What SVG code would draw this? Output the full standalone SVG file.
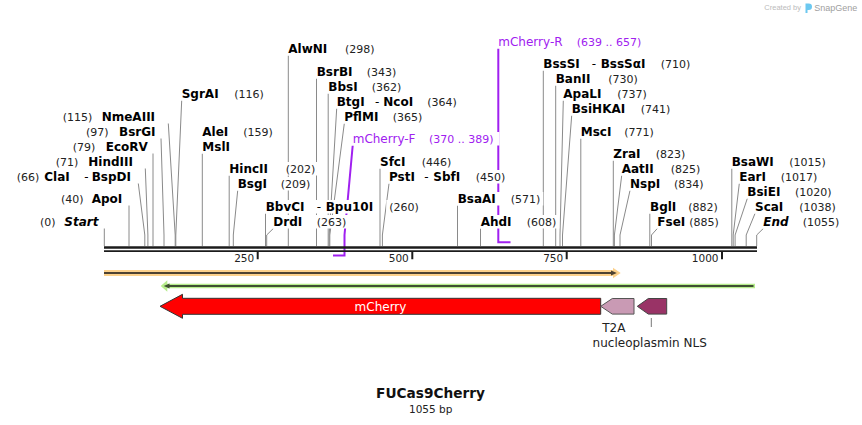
<svg xmlns="http://www.w3.org/2000/svg" width="862" height="425" viewBox="0 0 862 425">
<style>
.n{font:bold 12px "DejaVu Sans",Verdana,sans-serif;fill:#000}
.ni{font:italic bold 12px "DejaVu Sans",Verdana,sans-serif;fill:#000}
.c{font:11px "DejaVu Sans",Verdana,sans-serif;fill:#222}
.s{font:12px "DejaVu Sans",Verdana,sans-serif;fill:#000}
.p{font:12px "DejaVu Sans",Verdana,sans-serif;fill:#a020f0}
.pc{font:11px "DejaVu Sans",Verdana,sans-serif;fill:#a020f0}
.bg{fill:#fff}
.ln{stroke:#8a8a8a;stroke-width:1;fill:none}
.pl{stroke:#a020f0;stroke-width:2;fill:none}
.t{font:10.5px "DejaVu Sans",Verdana,sans-serif;fill:#222;text-anchor:end}
.f{font:12px "DejaVu Sans",Verdana,sans-serif;fill:#222;text-anchor:middle}
</style>
<rect width="862" height="425" fill="#fff"/>
<g id="credit">
<text x="764.3" y="10" style="font:7.5px 'Liberation Sans',Arial,sans-serif;fill:#bbb">Created by</text>
<path d="M805.5 3.5h3.2a3.3 3.3 0 0 1 0 6.6h-1.2v3h-2z" fill="#6cc8f0"/>
<text x="814.3" y="10.5" style="font:9px 'Liberation Sans',Arial,sans-serif;fill:#a0a0a0">SnapGene</text>
</g>
<g id="connectors">
<path class="ln" d="M104.3 228.5V246"/>
<path class="ln" d="M129 205.5V246"/>
<path class="ln" d="M138.3 183.5L144.8 235V246"/>
<path class="ln" d="M145.3 168.5L147.9 235V246"/>
<path class="ln" d="M153 153.5V246"/>
<path class="ln" d="M161 138.5L164 235V246"/>
<path class="ln" d="M168.3 123.5L175.2 235V246"/>
<path class="ln" d="M181.7 100.5L175.8 235V246"/>
<path class="ln" d="M202.3 153.5V246"/>
<path class="ln" d="M229.2 175.5V246"/>
<path class="ln" d="M237.7 190.5L233.3 235V246"/>
<path class="ln" d="M265.5 213.5V246"/>
<path class="ln" d="M273.3 228.5L266.7 235V246"/>
<path class="ln" d="M288.3 55.5V246"/>
<path class="ln" d="M316.5 78.5V246"/>
<path class="ln" d="M328.2 93.5V246"/>
<path class="ln" d="M336.7 108.5L329.2 235V246"/>
<path class="ln" d="M344.3 123.5L329.8 235V246"/>
<path class="ln" d="M380 168.5V246"/>
<path class="ln" d="M389 183.5L382.4 235V246"/>
<path class="ln" d="M457.5 205.5V246"/>
<path class="ln" d="M480.5 228.5V246"/>
<path class="ln" d="M543.3 70.5V246"/>
<path class="ln" d="M555.7 85.5V246"/>
<path class="ln" d="M563.3 100.5L560 235V246"/>
<path class="ln" d="M571.7 115.5L562.5 235V246"/>
<path class="ln" d="M580.8 138.5V246"/>
<path class="ln" d="M613.3 160.5V246"/>
<path class="ln" d="M621.7 175.5L614.4 235V246"/>
<path class="ln" d="M630 190.5L620 235V246"/>
<path class="ln" d="M649.8 213.5V246"/>
<path class="ln" d="M657.3 228.5L651.5 235V246"/>
<path class="ln" d="M731.8 168.5V246"/>
<path class="ln" d="M739.3 183.5L733.2 235V246"/>
<path class="ln" d="M747.3 198.5L735.1 235V246"/>
<path class="ln" d="M755 213.5L746.2 235V246"/>
<path class="ln" d="M763.3 228.5L756.7 235V246"/>
<path class="pl" d="M352.7 145.5L344.5 235V255.6H333"/>
<path class="pl" d="M498.3 48.5V242.3H510.5"/>
</g>
<g id="backbone">
<path d="M104 247.5H757" stroke="#1c1c1c" stroke-width="2.4"/>
<path d="M104 251.2H757" stroke="#1c1c1c" stroke-width="1.8"/>
<path d="M257.7 252V259.3M412.3 252V259.3M566.7 252V259.3M722 252V259.3" stroke="#1c1c1c" stroke-width="2"/>
<text class="t" x="254.2" y="262.3">250</text>
<text class="t" x="408.8" y="262.3">500</text>
<text class="t" x="563.2" y="262.3">750</text>
<text class="t" x="718.5" y="262.3">1000</text>
</g>
<g id="e-SgrAI"><rect class="bg" x="178.7" y="87" width="45" height="13.5"/><text class="n" x="181.7" y="98">SgrAI</text><rect class="bg" x="231.3" y="87" width="35.6" height="13.5"/><text class="c" x="234.3" y="98">(116)</text></g>
<g id="e-AleI"><rect class="bg" x="199.3" y="125" width="34.1" height="13.5"/><text class="n" x="202.3" y="136">AleI</text><rect class="bg" x="240.3" y="125" width="35.6" height="13.5"/><text class="c" x="243.3" y="136">(159)</text><rect class="bg" x="199.3" y="140" width="35.8" height="13.5"/><text class="n" x="202.3" y="151">MslI</text></g>
<g id="e-HincII"><rect class="bg" x="226.3" y="162" width="48.9" height="13.5"/><text class="n" x="229.3" y="173">HincII</text><rect class="bg" x="282.7" y="162" width="35.6" height="13.5"/><text class="c" x="285.7" y="173">(202)</text></g>
<g id="e-BsgI"><rect class="bg" x="234.7" y="177" width="37.4" height="13.5"/><text class="n" x="237.7" y="188">BsgI</text><rect class="bg" x="277.7" y="177" width="35.6" height="13.5"/><text class="c" x="280.7" y="188">(209)</text></g>
<g id="e-BbvCI"><rect class="bg" x="262.7" y="200" width="46.9" height="13.5"/><text class="n" x="265.7" y="211">BbvCI</text><rect class="bg" x="313.7" y="200" width="11" height="13.5"/><text class="s" x="316.7" y="211">-</text><rect class="bg" x="322.7" y="200" width="54.3" height="13.5"/><text class="n" x="325.7" y="211">Bpu10I</text><rect class="bg" x="386.3" y="200" width="35.6" height="13.5"/><text class="c" x="389.3" y="211">(260)</text></g>
<g id="e-DrdI"><rect class="bg" x="270.3" y="215" width="37" height="13.5"/><text class="n" x="273.3" y="226">DrdI</text><rect class="bg" x="313.7" y="215" width="35.6" height="13.5"/><text class="c" x="316.7" y="226">(263)</text></g>
<g id="e-AlwNI"><rect class="bg" x="285.3" y="42" width="47" height="13.5"/><text class="n" x="288.3" y="53">AlwNI</text><rect class="bg" x="342" y="42" width="35.6" height="13.5"/><text class="c" x="345" y="53">(298)</text></g>
<g id="e-BsrBI"><rect class="bg" x="313.7" y="65" width="42.7" height="13.5"/><text class="n" x="316.7" y="76">BsrBI</text><rect class="bg" x="363.7" y="65" width="35.6" height="13.5"/><text class="c" x="366.7" y="76">(343)</text></g>
<g id="e-BbsI"><rect class="bg" x="325.3" y="80" width="37.4" height="13.5"/><text class="n" x="328.3" y="91">BbsI</text><rect class="bg" x="368.7" y="80" width="35.6" height="13.5"/><text class="c" x="371.7" y="91">(362)</text></g>
<g id="e-BtgI"><rect class="bg" x="333.7" y="95" width="36" height="13.5"/><text class="n" x="336.7" y="106">BtgI</text><rect class="bg" x="372" y="95" width="11" height="13.5"/><text class="s" x="375" y="106">-</text><rect class="bg" x="380.3" y="95" width="38" height="13.5"/><text class="n" x="383.3" y="106">NcoI</text><rect class="bg" x="424.3" y="95" width="35.6" height="13.5"/><text class="c" x="427.3" y="106">(364)</text></g>
<g id="e-PflMI"><rect class="bg" x="341.3" y="110" width="42.6" height="13.5"/><text class="n" x="344.3" y="121">PflMI</text><rect class="bg" x="389.7" y="110" width="35.6" height="13.5"/><text class="c" x="392.7" y="121">(365)</text></g>
<g id="p-mCherry-F"><rect class="bg" x="349.7" y="132" width="69.3" height="13.5"/><text class="p" x="352.7" y="143">mCherry-F</text><rect class="bg" x="426" y="132" width="73.5" height="13.5"/><text class="pc" x="429" y="143">(370 .. 389)</text></g>
<g id="e-SfcI"><rect class="bg" x="377" y="155" width="33.5" height="13.5"/><text class="n" x="380" y="166">SfcI</text><rect class="bg" x="418.7" y="155" width="35.6" height="13.5"/><text class="c" x="421.7" y="166">(446)</text></g>
<g id="e-PstI"><rect class="bg" x="386" y="170" width="34.2" height="13.5"/><text class="n" x="389" y="181">PstI</text><rect class="bg" x="421.3" y="170" width="11" height="13.5"/><text class="s" x="424.3" y="181">-</text><rect class="bg" x="430.3" y="170" width="35" height="13.5"/><text class="n" x="433.3" y="181">SbfI</text><rect class="bg" x="472.7" y="170" width="35.6" height="13.5"/><text class="c" x="475.7" y="181">(450)</text></g>
<g id="e-BsaAI"><rect class="bg" x="454.7" y="192" width="46.2" height="13.5"/><text class="n" x="457.7" y="203">BsaAI</text><rect class="bg" x="507.7" y="192" width="35.6" height="13.5"/><text class="c" x="510.7" y="203">(571)</text></g>
<g id="e-AhdI"><rect class="bg" x="477.7" y="215" width="39" height="13.5"/><text class="n" x="480.7" y="226">AhdI</text><rect class="bg" x="523.7" y="215" width="35.6" height="13.5"/><text class="c" x="526.7" y="226">(608)</text></g>
<g id="p-mCherry-R"><rect class="bg" x="495.3" y="35" width="70.7" height="13.5"/><text class="p" x="498.3" y="46">mCherry-R</text><rect class="bg" x="573.7" y="35" width="71" height="13.5"/><text class="pc" x="576.7" y="46">(639 .. 657)</text></g>
<g id="e-BssSI"><rect class="bg" x="540.3" y="57" width="44.6" height="13.5"/><text class="n" x="543.3" y="68">BssSI</text><rect class="bg" x="588.7" y="57" width="11" height="13.5"/><text class="s" x="591.7" y="68">-</text><rect class="bg" x="597.7" y="57" width="53.4" height="13.5"/><text class="n" x="600.7" y="68">BssSαI</text><rect class="bg" x="657.7" y="57" width="35.6" height="13.5"/><text class="c" x="660.7" y="68">(710)</text></g>
<g id="e-BanII"><rect class="bg" x="552.7" y="72" width="44.9" height="13.5"/><text class="n" x="555.7" y="83">BanII</text><rect class="bg" x="605.3" y="72" width="35.6" height="13.5"/><text class="c" x="608.3" y="83">(730)</text></g>
<g id="e-ApaLI"><rect class="bg" x="560.3" y="87" width="46.2" height="13.5"/><text class="n" x="563.3" y="98">ApaLI</text><rect class="bg" x="614.3" y="87" width="35.6" height="13.5"/><text class="c" x="617.3" y="98">(737)</text></g>
<g id="e-BsiHKAI"><rect class="bg" x="568.7" y="102" width="61.6" height="13.5"/><text class="n" x="571.7" y="113">BsiHKAI</text><rect class="bg" x="637.7" y="102" width="35.6" height="13.5"/><text class="c" x="640.7" y="113">(741)</text></g>
<g id="e-MscI"><rect class="bg" x="577.7" y="125" width="38.8" height="13.5"/><text class="n" x="580.7" y="136">MscI</text><rect class="bg" x="621.3" y="125" width="35.6" height="13.5"/><text class="c" x="624.3" y="136">(771)</text></g>
<g id="e-ZraI"><rect class="bg" x="610.3" y="147" width="35.3" height="13.5"/><text class="n" x="613.3" y="158">ZraI</text><rect class="bg" x="652.7" y="147" width="35.6" height="13.5"/><text class="c" x="655.7" y="158">(823)</text></g>
<g id="e-AatII"><rect class="bg" x="618.7" y="162" width="42.3" height="13.5"/><text class="n" x="621.7" y="173">AatII</text><rect class="bg" x="667.7" y="162" width="35.6" height="13.5"/><text class="c" x="670.7" y="173">(825)</text></g>
<g id="e-NspI"><rect class="bg" x="627" y="177" width="38.3" height="13.5"/><text class="n" x="630" y="188">NspI</text><rect class="bg" x="671" y="177" width="35.6" height="13.5"/><text class="c" x="674" y="188">(834)</text></g>
<g id="e-BglI"><rect class="bg" x="647" y="200" width="34.4" height="13.5"/><text class="n" x="650" y="211">BglI</text><rect class="bg" x="685.3" y="200" width="35.6" height="13.5"/><text class="c" x="688.3" y="211">(882)</text></g>
<g id="e-FseI"><rect class="bg" x="654.3" y="215" width="36" height="13.5"/><text class="n" x="657.3" y="226">FseI</text><rect class="bg" x="686.3" y="215" width="35.6" height="13.5"/><text class="c" x="689.3" y="226">(885)</text></g>
<g id="e-BsaWI"><rect class="bg" x="728.7" y="155" width="50.2" height="13.5"/><text class="n" x="731.7" y="166">BsaWI</text><rect class="bg" x="786.3" y="155" width="42.6" height="13.5"/><text class="c" x="789.3" y="166">(1015)</text></g>
<g id="e-EarI"><rect class="bg" x="736.3" y="170" width="34.8" height="13.5"/><text class="n" x="739.3" y="181">EarI</text><rect class="bg" x="777.7" y="170" width="42.6" height="13.5"/><text class="c" x="780.7" y="181">(1017)</text></g>
<g id="e-BsiEI"><rect class="bg" x="744.3" y="185" width="43.3" height="13.5"/><text class="n" x="747.3" y="196">BsiEI</text><rect class="bg" x="792" y="185" width="42.6" height="13.5"/><text class="c" x="795" y="196">(1020)</text></g>
<g id="e-ScaI"><rect class="bg" x="752" y="200" width="36.4" height="13.5"/><text class="n" x="755" y="211">ScaI</text><rect class="bg" x="796.3" y="200" width="42.6" height="13.5"/><text class="c" x="799.3" y="211">(1038)</text></g>
<g id="e-End"><rect class="bg" x="760.3" y="215" width="31.3" height="13.5"/><text class="ni" x="763.3" y="226">End</text><rect class="bg" x="799.7" y="215" width="42.6" height="13.5"/><text class="c" x="802.7" y="226">(1055)</text></g>
<g id="e-Start"><rect class="bg" x="37" y="215" width="21.6" height="13.5"/><text class="c" x="40" y="226">(0)</text><rect class="bg" x="61.3" y="215" width="39.4" height="13.5"/><text class="ni" x="64.3" y="226">Start</text></g>
<g id="e-ApoI"><rect class="bg" x="58" y="192" width="28.6" height="13.5"/><text class="c" x="61" y="203">(40)</text><rect class="bg" x="88.7" y="192" width="38.3" height="13.5"/><text class="n" x="91.7" y="203">ApoI</text></g>
<g id="e-ClaI"><rect class="bg" x="13.7" y="170" width="28.6" height="13.5"/><text class="c" x="16.7" y="181">(66)</text><rect class="bg" x="41.3" y="170" width="33.6" height="13.5"/><text class="n" x="44.3" y="181">ClaI</text><rect class="bg" x="81.3" y="170" width="11" height="13.5"/><text class="s" x="84.3" y="181">-</text><rect class="bg" x="88.7" y="170" width="45.3" height="13.5"/><text class="n" x="91.7" y="181">BspDI</text></g>
<g id="e-HindIII"><rect class="bg" x="52.7" y="155" width="28.6" height="13.5"/><text class="c" x="55.7" y="166">(71)</text><rect class="bg" x="85.3" y="155" width="55.4" height="13.5"/><text class="n" x="88.3" y="166">HindIII</text></g>
<g id="e-EcoRV"><rect class="bg" x="69.7" y="140" width="28.6" height="13.5"/><text class="c" x="72.7" y="151">(79)</text><rect class="bg" x="102.7" y="140" width="46.3" height="13.5"/><text class="n" x="105.7" y="151">EcoRV</text></g>
<g id="e-BsrGI"><rect class="bg" x="83" y="125" width="28.6" height="13.5"/><text class="c" x="86" y="136">(97)</text><rect class="bg" x="116" y="125" width="43.7" height="13.5"/><text class="n" x="119" y="136">BsrGI</text></g>
<g id="e-NmeAIII"><rect class="bg" x="59.7" y="110" width="35.6" height="13.5"/><text class="c" x="62.7" y="121">(115)</text><rect class="bg" x="98.7" y="110" width="63.6" height="13.5"/><text class="n" x="101.7" y="121">NmeAIII</text></g>
<g id="f-orange">
<path d="M104 270H613V267.7L620.7 273L613 278.3V276H104Z" fill="#fcd18c"/>
<path d="M104 273H612" stroke="#4d4232" stroke-width="2"/>
<path d="M611 270.6L616.8 273L611 275.4Z" fill="#4d4232"/>
</g>
<g id="f-green">
<path d="M160.7 286L167.3 280.2V283.7H755V288.3H167.3V291.8Z" fill="#b6ec8c"/>
<path d="M168 286H753.5" stroke="#3f4f33" stroke-width="2"/>
<path d="M163.8 286L169.5 283.6V288.4Z" fill="#3f4f33"/>
</g>
<g id="f-mCherry">
<path d="M160 306.3L182.5 294.3V298.3H600.7V314.3H182.5V318.3Z" fill="#ff0000" stroke="#333" stroke-width="1"/>
<text x="380.5" y="310.5" style="font:12px 'DejaVu Sans',Verdana,sans-serif;fill:#fff;text-anchor:middle">mCherry</text>
</g>
<g id="f-T2A">
<path d="M600.7 306.3L612.3 298.5H634V314.1H612.3Z" fill="#c99ab4" stroke="#555" stroke-width="1"/>
<text class="f" x="613.8" y="331.7">T2A</text>
</g>
<g id="f-NLS">
<path d="M637.3 306.3L648.3 298.5H666.7V314.1H648.3Z" fill="#993366" stroke="#444" stroke-width="1"/>
<path d="M651.3 318V327" stroke="#777" stroke-width="1"/>
<text class="f" x="649.7" y="347.3">nucleoplasmin NLS</text>
</g>
<g id="title">
<text x="430.5" y="398" style="font:bold 13.7px 'DejaVu Sans',Verdana,sans-serif;fill:#111;text-anchor:middle">FUCas9Cherry</text>
<text x="430.7" y="413.3" style="font:10.5px 'DejaVu Sans',Verdana,sans-serif;fill:#222;text-anchor:middle">1055 bp</text>
</g>
</svg>
